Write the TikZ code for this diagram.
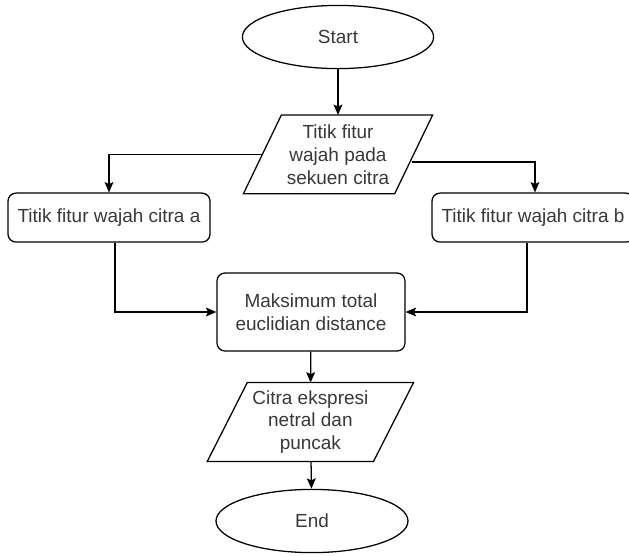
\documentclass[tikz,border=0pt]{standalone}
\usepackage{fontspec}
\setmainfont{Liberation Sans}
\usepackage{xcolor}
\usepackage{tikz}
\usetikzlibrary{shapes.geometric, arrows.meta, positioning, calc}

\begin{document}
\begin{tikzpicture}[
    line width=0.9pt,
    >={Stealth[length=0.26cm,width=0.22cm,inset=0.05cm]},
    txt/.style={font=\fontsize{13.5}{16.3}\selectfont, text=black!78, align=center, inner sep=0pt},
    terminal/.style={txt, draw, ellipse, minimum width=#1, minimum height=1.58cm},
    iobox/.style={txt, minimum width=#1, minimum height=1.94cm},
    procbox/.style={txt, draw, rounded corners=0.2cm, minimum height=#1}
  ]
  % frame
  \useasboundingbox (0,0) rectangle (15.725,-13.875);

  % nodes
  \node[terminal=4.78cm] (start) at (8.45,-0.925) {Start};
  \node[iobox=3.75cm] (titik) at (8.45,-3.86) {Titik fitur\\wajah pada\\sekuen citra};
  \node[procbox=1.225cm, minimum width=5.05cm] (citraa) at (2.725,-5.44) {Titik fitur wajah citra a};
  \node[procbox=1.225cm, minimum width=5.05cm] (citrab) at (13.325,-5.44) {Titik fitur wajah citra b};
  \node[procbox=1.95cm, minimum width=4.7cm] (maks) at (7.775,-7.8) {Maksimum total\\euclidian distance};
  \node[iobox=4.125cm] (hasil) at (7.76,-10.55) {Citra ekspresi\\netral dan\\puncak};
  \node[terminal=4.8cm] (end) at (7.8,-13.025) {End};

  % parallelogram outlines
  \draw ($(titik.south west)+(-0.475,0)$) -- ($(titik.north west)+(0.475,0)$)
     -- ($(titik.north east)+(0.475,0)$) -- ($(titik.south east)+(-0.475,0)$) -- cycle;
  \draw ($(hasil.south west)+(-0.5,0)$) -- ($(hasil.north west)+(0.5,0)$)
     -- ($(hasil.north east)+(0.5,0)$) -- ($(hasil.south east)+(-0.5,0)$) -- cycle;

  % arrows
  \draw[->] (start) -- (titik);
  \draw[->] (titik.west) -| (citraa.north);
  \draw[->] ([xshift=-0.05cm,yshift=-0.19cm]titik.east) -| ([xshift=0.05cm]citrab.north);
  \draw[->] ([xshift=0.15cm]citraa.south) |- (maks.west);
  \draw[->] ([xshift=-0.15cm]citrab.south) |- (maks.east);
  \draw[->] (maks) -- (hasil);
  \draw[->] (hasil) -- (end);
\end{tikzpicture}
\end{document}
